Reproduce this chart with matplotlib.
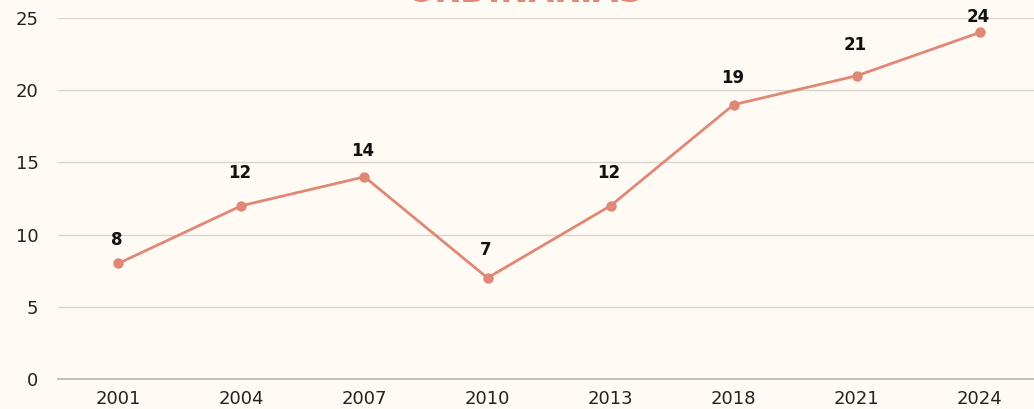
import matplotlib.pyplot as plt

years = ['2001', '2004', '2007', '2010', '2013', '2018', '2021', '2024']
values = [8, 12, 14, 7, 12, 19, 21, 24]
title = 'ORDINARIAS'

# label gap above each point, in pixels (styling only)
label_gap = [17, 27, 20, 22, 27, 21, 25, 9]

bg = '#fffbf4'
salmon = '#e08775'

plt.rcParams['font.family'] = ['DejaVu Sans']

fig = plt.figure(figsize=(10.34, 4.09), dpi=100, facecolor=bg)
ax = fig.add_axes([58 / 1034, 30 / 409, (1034 - 58) / 1034, (379 - 18) / 409])
ax.set_facecolor(bg)

x = list(range(len(years)))
ax.plot(x, values, color=salmon, lw=2, marker='o', ms=6.5, zorder=3)
for xi, v, g in zip(x, values, label_gap):
    ax.annotate(str(v), (xi, v), xytext=(-1, (g - 3) * 0.72), textcoords='offset points',
                ha='center', va='bottom', fontsize=12, fontweight='bold', color='#111111')

ax.set_xlim(-0.49, 7.44)
ax.set_ylim(0, 25)
ax.set_yticks([0, 5, 10, 15, 20, 25])
ax.set_xticks(x)
ax.set_xticklabels(years)
ax.grid(axis='y', color='#d8d5cf', lw=1)
ax.set_axisbelow(True)
for s in ['top', 'right', 'left']:
    ax.spines[s].set_visible(False)
ax.spines['bottom'].set_color('#bdbab4')
ax.spines['bottom'].set_linewidth(1.3)
ax.tick_params(length=0, labelsize=13, colors='#222222')
ax.tick_params(axis='y', pad=14)
ax.tick_params(axis='x', pad=8)

fig.text(525, 407, title, transform=None, ha='center', va='baseline',
         fontsize=24, fontweight='bold', color=salmon)

fig.savefig('out.png', facecolor=bg)
